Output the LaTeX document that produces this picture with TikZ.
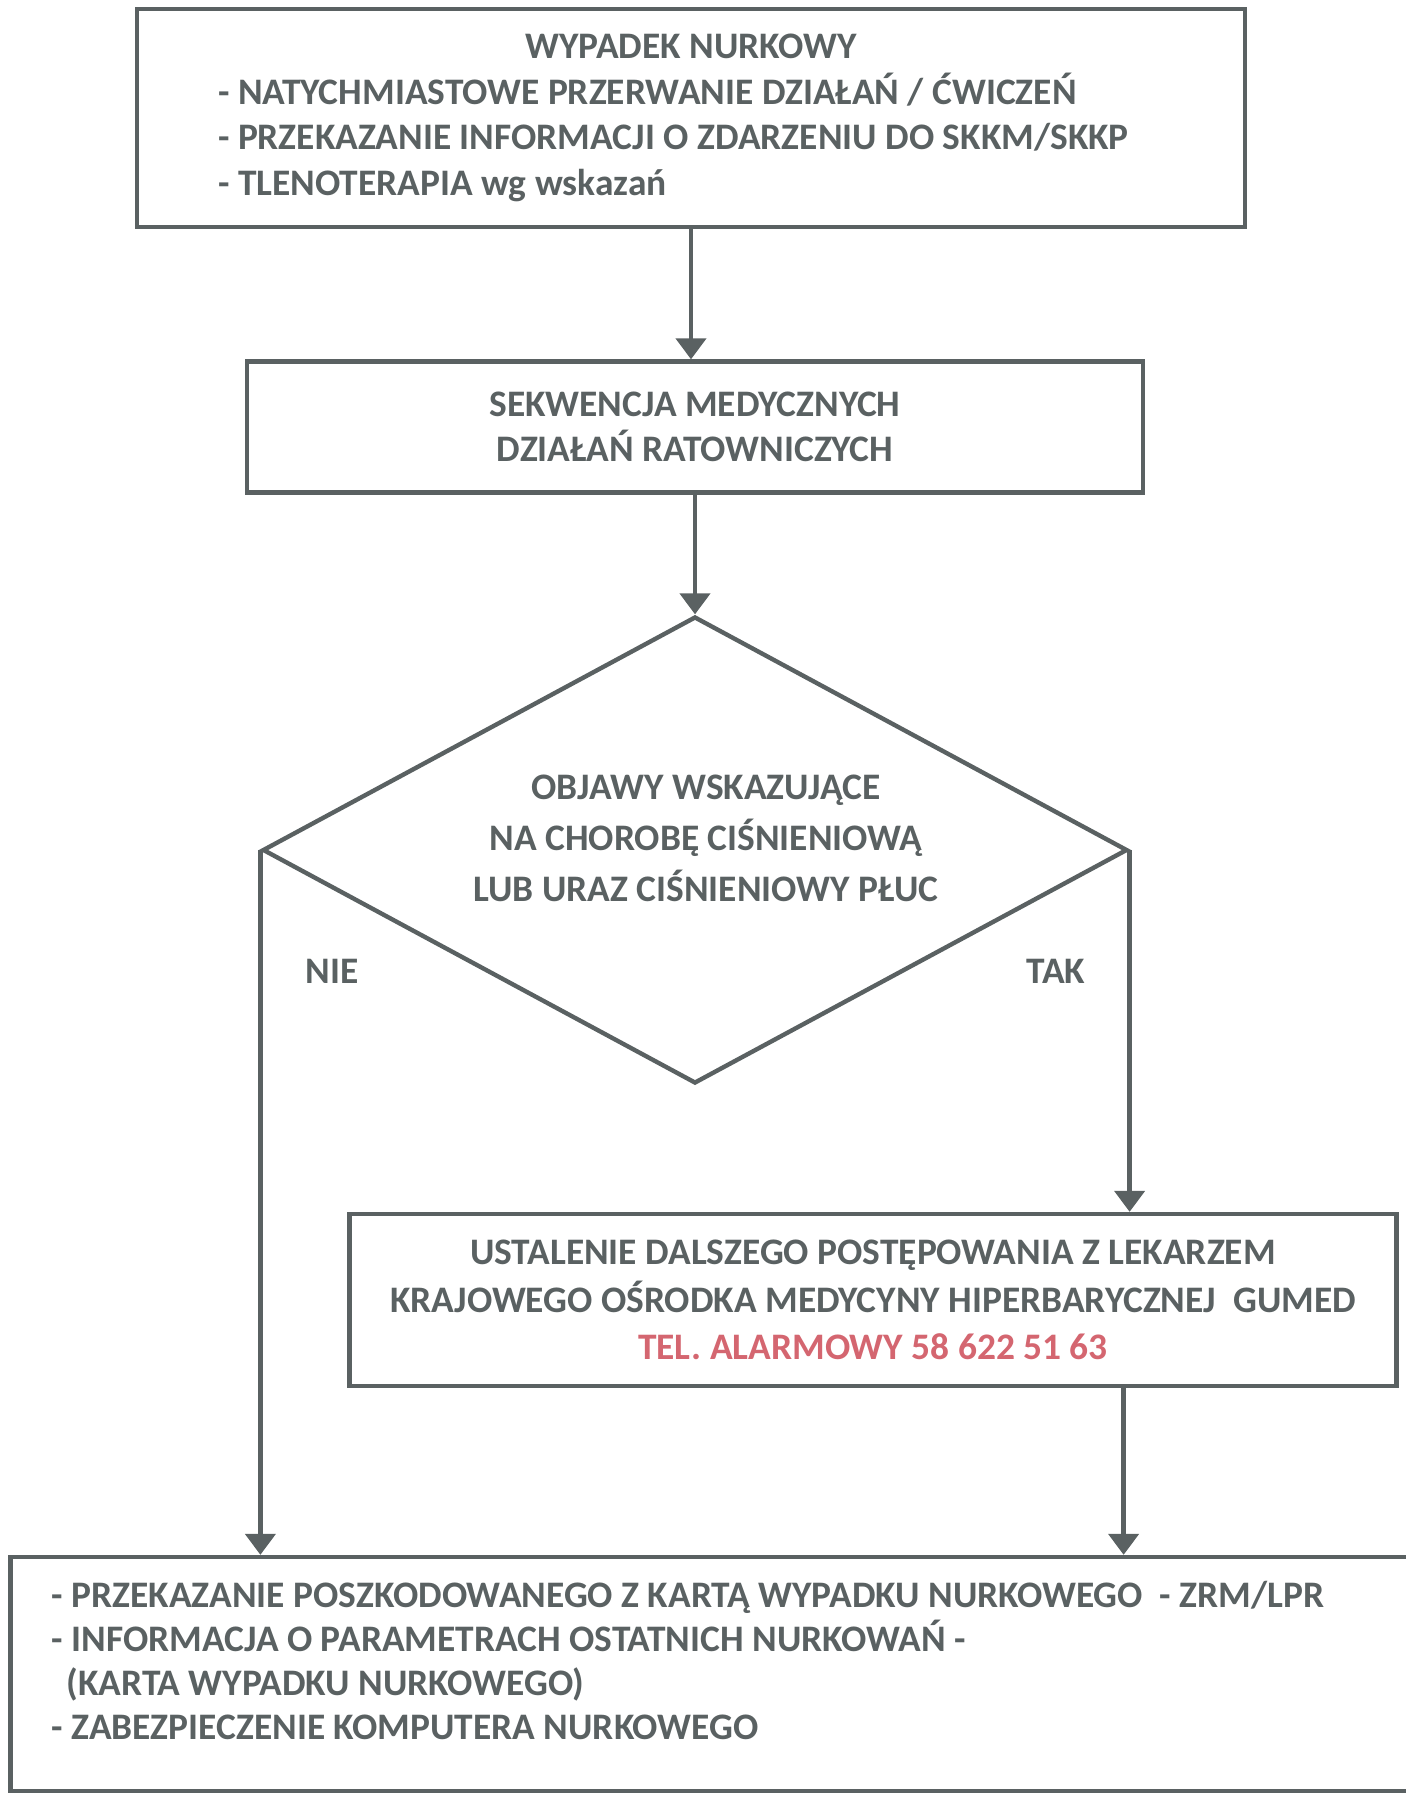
\documentclass[tikz,border=0pt]{standalone}
\usepackage{fontspec}
\setmainfont{Carlito}
\usepackage{xcolor}
\usetikzlibrary{shapes.geometric,arrows.meta}
\definecolor{szary}{RGB}{90,97,98}
\definecolor{czerw}{RGB}{212,102,112}

\begin{document}
\begin{tikzpicture}[x=0.02cm,y=-0.02cm,
        blok/.style={draw=szary,line width=2.5pt,text=szary,inner sep=0pt,font=\bfseries\fontsize{21.3}{26}\selectfont},
        romb/.style={diamond,draw=szary,line width=2.5pt,inner sep=0pt,shape aspect=1.85},
        opis/.style={text=szary,align=flush center,font=\bfseries\fontsize{21.3}{29}\selectfont},
        strz/.style={draw=szary,line width=2.5pt,-{Triangle[width=0.6cm,length=0.42cm]}}]
                \useasboundingbox (0,0) rectangle (1406,1795);

                \node (wyp) at (691,118) [blok,minimum width=22.16cm,minimum height=4.36cm,text width=18.92cm,align=flush left] {\makebox[\hsize]{WYPADEK NURKOWY}\\
                - NATYCHMIASTOWE PRZERWANIE DZIAŁAŃ / ĆWICZEŃ\\
                - PRZEKAZANIE INFORMACJI O ZDARZENIU DO SKKM/SKKP\\
                - TLENOTERAPIA wg wskazań};
                \node (sekw) at (695,427) [blok,minimum width=17.92cm,minimum height=2.62cm,align=flush center] {SEKWENCJA MEDYCZNYCH\\ DZIAŁAŃ RATOWNICZYCH};
                \node (pyt) at (695,850) [romb,minimum width=17.3cm,minimum height=9.34cm] {};
                \node (pytTxt) at (706,838) [opis] {OBJAWY WSKAZUJĄCE\\ NA CHOROBĘ CIŚNIENIOWĄ\\ LUB URAZ CIŚNIENIOWY PŁUC};
                \node (nie) at (332,971) [opis] {NIE};
                \node (tak) at (1056,971) [opis] {TAK};
                \node (ustal) at (873,1300) [blok,minimum width=20.94cm,minimum height=3.44cm,align=flush center,font=\bfseries\fontsize{21.3}{27}\selectfont] {USTALENIE DALSZEGO POSTĘPOWANIA Z LEKARZEM\\
                KRAJOWEGO OŚRODKA MEDYCYNY HIPERBARYCZNEJ\ \ GUMED\\
                \textcolor{czerw}{TEL. ALARMOWY 58 622 51 63}};
                \node (koniec) at (725,1674) [blok,minimum width=28.58cm,minimum height=4.68cm,text width=26.94cm,align=flush left,font=\bfseries\fontsize{21.3}{25}\selectfont] {- PRZEKAZANIE POSZKODOWANEGO Z KARTĄ WYPADKU NURKOWEGO\ \ - ZRM/LPR\\
                - INFORMACJA O PARAMETRACH OSTATNICH NURKOWAŃ -\\
                \hspace*{0.3cm}(KARTA WYPADKU NURKOWEGO)\\
                - ZABEZPIECZENIE KOMPUTERA NURKOWEGO\par\vspace*{0.55cm}};

                \draw[strz] (wyp.south) -- (wyp.south |- sekw.north);
                \draw[strz] (sekw.south) -- (pyt.north);
                \draw[strz] (pyt.west) -- (pyt.west |- koniec.north);
                \draw[strz] (pyt.east) -- (pyt.east |- ustal.north);
                \draw[strz] ([xshift=-0.12cm]pyt.east |- ustal.south) -- ([xshift=-0.12cm]pyt.east |- koniec.north);
            \end{tikzpicture}
\end{document}
